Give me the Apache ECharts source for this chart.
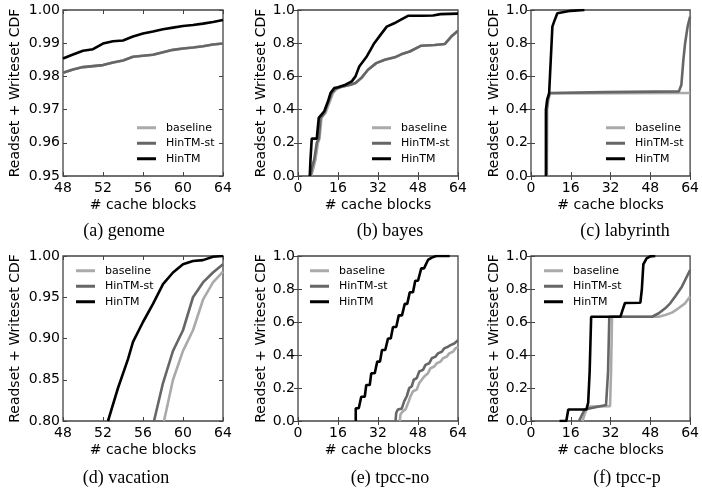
<!DOCTYPE html>
<html>
<head>
<meta charset="utf-8">
<script src="https://cdn.jsdelivr.net/npm/echarts@6/dist/echarts.min.js"></script>
<style>
  html, body { margin: 0; padding: 0; background: #fff; }
  #chart { width: 702px; height: 491px; }
</style>
</head>
<body>
<div id="chart"></div>
<script>
/* ---------- data: [cache blocks, CDF] ---------- */
var seriesNames = ['baseline', 'HinTM-st', 'HinTM'];
var seriesColors = ['#aaaaaa', '#666666', '#000000'];

// (a) genome
var genomeBaseline = [[48, 0.9811], [49, 0.9821], [50, 0.9828], [51, 0.9831], [52, 0.9834], [53, 0.9842], [54, 0.9848], [55, 0.9859], [56, 0.9862], [57, 0.9865], [58, 0.9873], [59, 0.9880], [60, 0.9884], [61, 0.9887], [62, 0.9891], [63, 0.9896], [64, 0.9899]];
var genomeHinTMst = [[48, 0.9811], [49, 0.9821], [50, 0.9828], [51, 0.9831], [52, 0.9834], [53, 0.9842], [54, 0.9848], [55, 0.9859], [56, 0.9862], [57, 0.9865], [58, 0.9873], [59, 0.9880], [60, 0.9884], [61, 0.9887], [62, 0.9891], [63, 0.9896], [64, 0.9899]];
var genomeHinTM = [[48, 0.9854], [49, 0.9866], [50, 0.9877], [51, 0.9882], [52, 0.9899], [53, 0.9906], [54, 0.9908], [55, 0.9920], [56, 0.9929], [57, 0.9935], [58, 0.9942], [59, 0.9947], [60, 0.9952], [61, 0.9955], [62, 0.9959], [63, 0.9964], [64, 0.9970]];

// (b) bayes
var bayesBaseline = [[5.3, 0], [6.2, 0.05], [7, 0.1], [8, 0.2], [8.6, 0.225], [9.4, 0.35], [11, 0.38], [12.5, 0.44], [14, 0.5], [15.5, 0.525], [18, 0.54], [21, 0.55], [23, 0.56], [25.3, 0.59], [28, 0.64], [31.3, 0.68], [34.7, 0.7], [38.7, 0.715], [41.3, 0.733], [44.7, 0.75], [49.3, 0.785], [54.7, 0.789], [58.7, 0.795], [61.3, 0.84], [64, 0.875]];
var bayesHinTMst = [[5, 0], [5.6, 0.05], [6.5, 0.1], [7.5, 0.2], [8.3, 0.225], [9, 0.35], [10.5, 0.38], [12, 0.44], [13.5, 0.5], [15, 0.525], [18, 0.54], [21, 0.55], [23, 0.56], [25.3, 0.59], [28, 0.64], [31.3, 0.68], [34.7, 0.7], [38.7, 0.715], [41.3, 0.733], [44.7, 0.75], [49.3, 0.785], [54.7, 0.789], [58.7, 0.795], [61.3, 0.84], [64, 0.875]];
var bayesHinTM = [[4.7, 0], [5, 0.1], [5.5, 0.225], [7.5, 0.225], [8.3, 0.35], [9, 0.36], [10.5, 0.39], [12, 0.45], [13, 0.5], [14.5, 0.53], [16, 0.535], [19, 0.55], [21.5, 0.57], [23, 0.6], [24.5, 0.66], [26, 0.69], [27.5, 0.72], [29, 0.76], [30.5, 0.8], [33, 0.85], [35.5, 0.9], [38.5, 0.92], [41, 0.94], [44, 0.965], [50, 0.965], [54, 0.967], [57, 0.975], [64, 0.978]];

// (c) labyrinth
var labyBaseline = [[6.4, 0], [6.5, 0.4], [7, 0.46], [7.7, 0.497], [64, 0.5]];
var labyHinTMst = [[6.2, 0], [6.3, 0.4], [6.8, 0.46], [7.5, 0.5], [30, 0.505], [59.5, 0.51], [60.5, 0.55], [61.3, 0.7], [62, 0.8], [63, 0.9], [64, 0.96]];
var labyHinTM = [[6, 0], [6, 0.4], [6.5, 0.46], [7.3, 0.5], [8, 0.5], [8.6, 0.9], [9.3, 0.93], [10, 0.94], [10.6, 0.98], [11.3, 0.99], [16, 0.995], [21.5, 1]];

// (d) vacation
var vacBaseline = [[58.1, 0.8], [59, 0.85], [60, 0.885], [61, 0.91], [62, 0.947], [63, 0.968], [64, 0.981]];
var vacHinTMst = [[57.1, 0.8], [58, 0.846], [59, 0.885], [60, 0.91], [60.5, 0.93], [61, 0.95], [62, 0.968], [63, 0.98], [64, 0.99]];
var vacHinTM = [[52.5, 0.8], [53.5, 0.84], [54.5, 0.875], [55, 0.896], [56, 0.92], [57, 0.942], [58, 0.966], [59, 0.98], [60, 0.99], [61, 0.994], [62, 0.995], [63, 0.999], [64, 1]];

// (e) tpcc-no
var noBaseline = [[40.7, 0], [41, 0.04], [42, 0.06], [43, 0.07], [44.3, 0.12], [45, 0.15], [46, 0.18], [47.5, 0.19], [48.5, 0.23], [49.5, 0.25], [50.5, 0.27], [52, 0.29], [53, 0.32], [54.5, 0.33], [55.5, 0.35], [57, 0.36], [58, 0.38], [59.5, 0.39], [60.5, 0.41], [62, 0.42], [63, 0.44], [64, 0.45]];
var noHinTMst = [[39, 0], [39.3, 0.05], [40, 0.07], [41.5, 0.075], [42.5, 0.12], [43.5, 0.15], [44.5, 0.2], [45.5, 0.21], [46.3, 0.25], [47.5, 0.26], [48.5, 0.3], [50, 0.31], [51, 0.34], [52.5, 0.35], [53.5, 0.38], [55, 0.39], [56, 0.41], [57.5, 0.42], [58.5, 0.44], [60, 0.45], [61, 0.46], [62.5, 0.47], [64, 0.49]];
var noHinTM = [[23.1, 0], [23.1, 0.077], [24.3, 0.077], [25.3, 0.147], [26.7, 0.147], [27.3, 0.218], [28.7, 0.218], [29.3, 0.289], [30.7, 0.289], [31.7, 0.36], [32.8, 0.36], [33.6, 0.43], [34.9, 0.43], [36, 0.5], [37.1, 0.5], [38, 0.57], [39.3, 0.57], [40.3, 0.64], [41.6, 0.64], [42.7, 0.71], [43.7, 0.71], [44.7, 0.78], [46, 0.78], [46.9, 0.85], [48, 0.85], [49.3, 0.925], [50.4, 0.925], [52, 0.976], [53.5, 0.99], [55.3, 1], [60.7, 1]];

// (f) tpcc-p
var pBaseline = [[20.7, 0], [22, 0.06], [23.6, 0.087], [31.8, 0.09], [32.2, 0.3], [32.6, 0.632], [51.4, 0.632], [54, 0.642], [56.7, 0.657], [59.3, 0.683], [62, 0.713], [64, 0.754]];
var pHinTMst = [[19.3, 0], [21.6, 0.07], [30.2, 0.097], [31, 0.3], [31.5, 0.632], [48.7, 0.632], [51.4, 0.653], [54, 0.683], [56, 0.713], [58, 0.754], [60.7, 0.814], [64, 0.915]];
var pHinTM = [[11.5, 0], [14.2, 0], [15, 0.07], [22.3, 0.07], [23, 0.11], [23.6, 0.3], [24.2, 0.632], [36, 0.632], [36.8, 0.67], [37.8, 0.715], [44, 0.717], [44.6, 0.8], [45.2, 0.95], [46.5, 0.985], [48, 0.998], [50, 1]];

/* ---------- panel layout ---------- */
var panels = [
    { caption: '(a) genome', grid: [63, 10, 160, 166], x: [48, 64, 4], y: [0.95, 1, 0.01, 2], nameGap: 41,
      lines: [genomeBaseline, genomeHinTMst, genomeHinTM], legend: [137, 120], cap: [124, 231] },
    { caption: '(b) bayes', grid: [298, 10, 160, 166], x: [0, 64, 16], y: [0, 1, 0.2, 1], nameGap: 29,
      lines: [bayesBaseline, bayesHinTMst, bayesHinTM], legend: [372, 120], cap: [390, 231] },
    { caption: '(c) labyrinth', grid: [531, 10, 161, 166], x: [0, 64, 16], y: [0, 1, 0.2, 1], nameGap: 29,
      lines: [labyBaseline, labyHinTMst, labyHinTM], legend: [606, 120], cap: [625, 231] },
    { caption: '(d) vacation', grid: [63, 256, 160, 165], x: [48, 64, 4], y: [0.8, 1, 0.05, 2], nameGap: 41,
      lines: [vacBaseline, vacHinTMst, vacHinTM], legend: [76, 263], cap: [126, 478] },
    { caption: '(e) tpcc-no', grid: [298, 256, 160, 165], x: [0, 64, 16], y: [0, 1, 0.2, 1], nameGap: 29,
      lines: [noBaseline, noHinTMst, noHinTM], legend: [310, 263], cap: [390, 478] },
    { caption: '(f) tpcc-p', grid: [531, 256, 161, 165], x: [0, 64, 16], y: [0, 1, 0.2, 1], nameGap: 29,
      lines: [pBaseline, pHinTMst, pHinTM], legend: [544, 263], cap: [627, 478] }
];

var font = 'DejaVu Sans';
var frame = '#444';

var grids = [], xAxes = [], yAxes = [], series = [], legends = [], graphics = [];

panels.forEach(function (p, i) {
    grids.push({
        left: p.grid[0], top: p.grid[1], width: p.grid[2], height: p.grid[3],
        show: true, borderColor: frame, borderWidth: 1.3, backgroundColor: 'transparent'
    });

    var tick = { show: true, inside: true, length: 4, lineStyle: { color: frame, width: 1 } };

    // bottom + top x axes
    xAxes.push({
        type: 'value', gridIndex: i, min: p.x[0], max: p.x[1], interval: p.x[2],
        name: '# cache blocks', nameLocation: 'middle', nameGap: 22,
        nameTextStyle: { fontFamily: font, fontSize: 14, color: '#000' },
        axisLine: { show: false }, axisTick: tick, splitLine: { show: false },
        axisLabel: { fontFamily: font, fontSize: 14, color: '#000', margin: 5 }
    });
    xAxes.push({
        type: 'value', gridIndex: i, position: 'top', min: p.x[0], max: p.x[1], interval: p.x[2],
        axisLine: { show: false }, axisTick: tick, splitLine: { show: false }, axisLabel: { show: false }
    });

    // left + right y axes
    var dec = p.y[3];
    yAxes.push({
        type: 'value', gridIndex: i, min: p.y[0], max: p.y[1], interval: p.y[2],
        name: 'Readset + Writeset CDF', nameLocation: 'middle', nameGap: p.nameGap,
        nameTextStyle: { fontFamily: font, fontSize: 14, color: '#000' },
        axisLine: { show: false }, axisTick: tick, splitLine: { show: false },
        axisLabel: {
            fontFamily: font, fontSize: 14, color: '#000', margin: 3,
            formatter: function (v) { return v.toFixed(dec); }
        }
    });
    yAxes.push({
        type: 'value', gridIndex: i, position: 'right', min: p.y[0], max: p.y[1], interval: p.y[2],
        axisLine: { show: false }, axisTick: tick, splitLine: { show: false }, axisLabel: { show: false }
    });

    p.lines.forEach(function (d, k) {
        series.push({
            name: seriesNames[k], type: 'line',
            xAxisIndex: 2 * i, yAxisIndex: 2 * i,
            data: d, symbol: 'none', showSymbol: false, clip: true,
            lineStyle: { width: 2.6, color: seriesColors[k] },
            itemStyle: { color: seriesColors[k] }
        });
    });

    legends.push({
        data: seriesNames, orient: 'vertical', left: p.legend[0], top: p.legend[1],
        icon: 'rect', itemWidth: 19, itemHeight: 3, itemGap: 0, padding: 0,
        selectedMode: false,
        textStyle: { fontFamily: font, fontSize: 11, color: '#000', lineHeight: 15.5, padding: [0, 0, 0, 5] }
    });

    graphics.push({
        type: 'text', x: p.cap[0], y: p.cap[1],
        style: {
            text: p.caption, fill: '#000', align: 'center', verticalAlign: 'middle',
            font: '18px "Liberation Serif", serif'
        }
    });
});

var chart = echarts.init(document.getElementById('chart'));
chart.setOption({
    animation: false,
    backgroundColor: '#fff',
    grid: grids,
    xAxis: xAxes,
    yAxis: yAxes,
    legend: legends,
    series: series,
    graphic: graphics
});
</script>
</body>
</html>
